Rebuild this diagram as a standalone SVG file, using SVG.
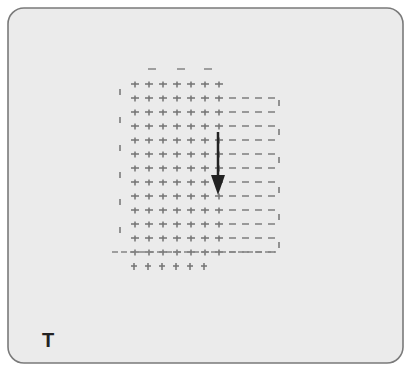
<svg xmlns="http://www.w3.org/2000/svg" width="407" height="367" viewBox="0 0 407 367">
  <style>
    .panel { fill: #ebebeb; stroke: #7a7a7a; stroke-width: 1.6; }
    .g { stroke: #747474; stroke-width: 1.5; fill: none; stroke-linecap: butt; }
    .d { stroke: #858585; stroke-width: 1.6; fill: none; }
    .arrow { stroke: #222; stroke-width: 2.5; fill: none; }
    .head { fill: #222; }
    .lbl { font-family: "Liberation Sans", Arial, sans-serif; font-weight: bold; font-size: 20px; fill: #222; }
  </style>
  <defs>
    <pattern id="crossPat" patternUnits="userSpaceOnUse" x="128" y="77" width="14" height="14">
      <path class="g" d="M3 7H11M7 4.5V10.5"/>
    </pattern>
    <pattern id="dashPat" patternUnits="userSpaceOnUse" x="226" y="91" width="13" height="14">
      <path class="d" d="M3 7H10"/>
    </pattern>
  </defs>
  <rect width="407" height="367" fill="#ffffff"/>
  <g id="panel">
    <rect class="panel" x="8" y="8" width="395" height="355" rx="16" ry="16"/>
  </g>
  <g id="field">
    <rect x="128" y="77" width="98" height="182" fill="url(#crossPat)"/>
    <rect x="226" y="91" width="52" height="168" fill="url(#dashPat)"/>
    <path class="d" d="M148 69H156M177 69H185M204 69H212"/>
    <path class="g" d="M134 263V270M131 266H137M148 263V270M145 266H151M162 263V270M159 266H165M176 263V270M173 266H179M190 263V270M187 266H193M204 263V270M201 266H207"/>
    <path class="d" stroke-dasharray="6 3" d="M112 252H276"/>
    <path class="g" d="M120 89V95M120 117V123M120 145V151M120 172V178M120 199V205M120 227V233"/>
    <path class="g" d="M279 100V106M279 129V135M279 157V163M279 187V193M279 214V220M279 242V248"/>
  </g>
  <g id="connectors">
    <line class="arrow" x1="218" y1="132" x2="218" y2="177"/>
    <polygon class="head" points="211,175 225,175 218,195"/>
  </g>
  <g id="label">
    <text class="lbl" x="48" y="347" text-anchor="middle">T</text>
  </g>
</svg>
